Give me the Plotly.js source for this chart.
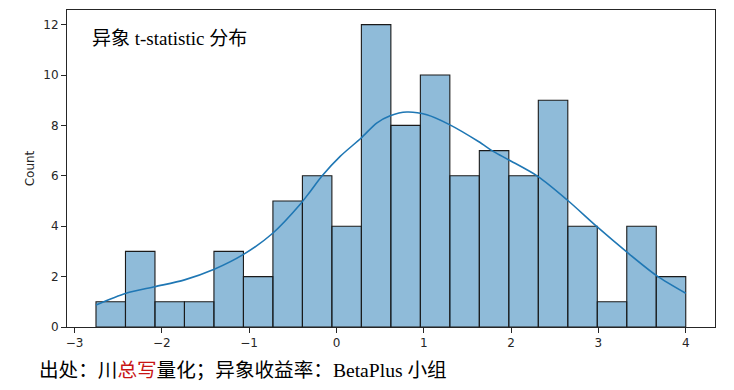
<!DOCTYPE html>
<html>
<head>
<meta charset="utf-8">
<script src="https://cdn.plot.ly/plotly-3.0.1.min.js"></script>
<style>
  html, body { margin: 0; padding: 0; background: #fff; }
  #chart { width: 734px; height: 390px; }
</style>
</head>
<body>
<div id="chart"></div>
<script>
// Histogram bins (20 equal-width bins)
const binStart = -2.754;
const binEnd = 4.0;
const counts = [1, 3, 1, 1, 3, 2, 5, 6, 4, 12, 8, 10, 6, 7, 6, 9, 4, 1, 4, 2];

// KDE curve (in count units)
const kdeX = [-2.754, -2.41, -2.08, -1.74, -1.40, -1.06, -0.73, -0.42, -0.30, -0.164, 0.042, 0.283, 0.46, 0.615, 0.806, 1.035, 1.294, 1.626, 1.80, 1.974, 2.31, 2.64, 2.99, 3.32, 3.67, 4.0];
const kdeY = [0.87, 1.34, 1.60, 1.87, 2.29, 2.89, 3.72, 4.85, 5.38, 6.0, 6.77, 7.5, 8.09, 8.38, 8.53, 8.42, 8.03, 7.36, 6.96, 6.63, 5.97, 5.05, 3.96, 2.99, 2.03, 1.34];

const xTicks = [-3, -2, -1, 0, 1, 2, 3, 4];
const yTicks = [0, 2, 4, 6, 8, 10, 12];

const titleText = '异象 t-statistic 分布';
const captionText = '出处：川<span style="color:#c81414">总写</span>量化；异象收益率：BetaPlus 小组';
const yLabel = 'Count';

const binW = (binEnd - binStart) / counts.length;
const centers = counts.map((_, i) => binStart + binW * (i + 0.5));

const tickFont = { family: 'DejaVu Sans, sans-serif', size: 12, color: '#262626' };
const serifCJK = 'Liberation Serif, "Noto Sans CJK SC", serif';

const traces = [
  {
    type: 'bar',
    x: centers,
    y: counts,
    width: counts.map(() => binW),
    marker: {
      color: 'rgba(31,119,180,0.5)',
      line: { color: '#1a1a1a', width: 1.1 }
    },
    hoverinfo: 'x+y',
    showlegend: false
  },
  {
    type: 'scatter',
    mode: 'lines',
    x: kdeX,
    y: kdeY,
    line: { color: '#1f77b4', width: 1.6, shape: 'spline', smoothing: 0.8 },
    showlegend: false
  }
];

const layout = {
  width: 734,
  height: 390,
  margin: { l: 67, r: 19, t: 10, b: 63 },
  paper_bgcolor: '#ffffff',
  plot_bgcolor: '#ffffff',
  bargap: 0,
  showlegend: false,
  xaxis: {
    range: [-3.086, 4.335],
    tickvals: xTicks,
    ticktext: xTicks.map(v => v < 0 ? '\u2212' + Math.abs(v) : String(v)),
    ticks: 'outside',
    ticklen: 5,
    tickcolor: '#262626',
    tickfont: tickFont,
    showgrid: false,
    zeroline: false,
    showline: true,
    mirror: true,
    linecolor: '#262626',
    linewidth: 1
  },
  yaxis: {
    range: [0, 12.58],
    tickvals: yTicks,
    ticks: 'outside',
    ticklen: 5,
    tickcolor: '#262626',
    tickfont: tickFont,
    showgrid: false,
    zeroline: false,
    showline: true,
    mirror: true,
    linecolor: '#262626',
    linewidth: 1,
    title: { text: yLabel, font: tickFont, standoff: 6 }
  },
  annotations: [
    {
      text: titleText,
      xref: 'paper', yref: 'paper',
      x: 0.035, y: 0.911,
      xanchor: 'left', yanchor: 'middle',
      showarrow: false,
      font: { family: serifCJK, size: 19, color: '#000000' }
    },
    {
      text: captionText,
      xref: 'paper', yref: 'paper',
      x: -0.0463, y: -0.1358,
      xanchor: 'left', yanchor: 'middle',
      showarrow: false,
      font: { family: serifCJK, size: 19.6, color: '#000000' }
    }
  ]
};

Plotly.newPlot('chart', traces, layout, { displayModeBar: false, staticPlot: true });
</script>
</body>
</html>
